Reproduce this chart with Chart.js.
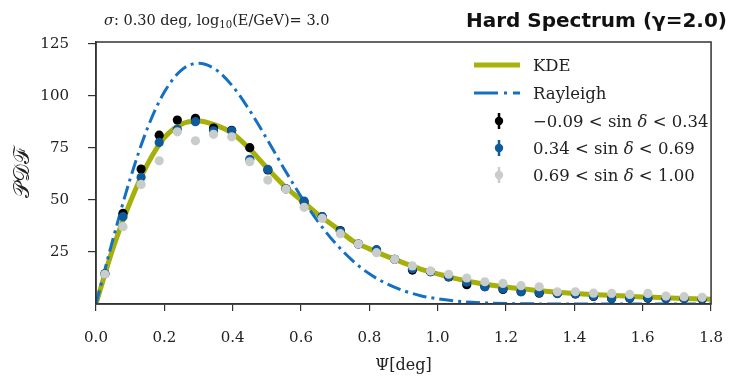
<!DOCTYPE html>
<html>
<head>
<meta charset="utf-8">
<script src="https://cdn.jsdelivr.net/npm/chart.js@4.4.1/dist/chart.umd.min.js"></script>
<style>
body { margin: 0; background: #fff; }
#wrap { position: relative; width: 741px; height: 378px; }
.txt { position: absolute; white-space: nowrap; color: #222; }
sub { font-size: 70%; vertical-align: -3px; line-height: 0; }
.leg { position: absolute; left: 474px; height: 20px; display: flex; align-items: center;
       font: 16.5px 'DejaVu Serif'; color: #222; white-space: nowrap; }
.leg svg { width: 46px; height: 20px; margin-right: 13px; flex: none; }
</style>
</head>
<body>
<div id="wrap">
  <canvas id="chart" width="741" height="378"></canvas>
  <div class="txt" style="left:104px;top:11px;font:14.5px 'DejaVu Serif';line-height:18px"><i>σ</i>: 0.30 deg, log<sub>10</sub>(E/GeV)= 3.0</div>
  <div class="txt" style="right:14px;top:8px;font:bold 20px 'DejaVu Sans';line-height:24px;color:#111">Hard Spectrum (γ=2.0)</div>

  <div class="leg" style="top:55px">
    <svg><line x1="0" y1="10" x2="46" y2="10" stroke="#a7b30c" stroke-width="5"/></svg><span>KDE</span>
  </div>
  <div class="leg" style="top:83px">
    <svg><line x1="0" y1="10" x2="46" y2="10" stroke="#1570c2" stroke-width="3" stroke-dasharray="24 6 3 6"/></svg><span>Rayleigh</span>
  </div>
  <div class="leg" style="top:111px">
    <svg><line x1="25" y1="2" x2="25" y2="18" stroke="#000" stroke-width="2.5"/><circle cx="25" cy="10" r="4.2" fill="#000"/></svg><span>−0.09 &lt; sin <i>δ</i> &lt; 0.34</span>
  </div>
  <div class="leg" style="top:138px">
    <svg><line x1="25" y1="2" x2="25" y2="18" stroke="#0d5a9c" stroke-width="2.5"/><circle cx="25" cy="10" r="4.2" fill="#0d5a9c"/></svg><span>0.34 &lt; sin <i>δ</i> &lt; 0.69</span>
  </div>
  <div class="leg" style="top:165px">
    <svg><line x1="25" y1="2" x2="25" y2="18" stroke="#c8cccb" stroke-width="2.5"/><circle cx="25" cy="10" r="4.2" fill="#c8cccb"/></svg><span>0.69 &lt; sin <i>δ</i> &lt; 1.00</span>
  </div>
</div>

<script>
// bin centres of the histogram points (deg)
const psiBins = [0.026, 0.079, 0.132, 0.185, 0.238, 0.291, 0.344, 0.397, 0.450, 0.503,
                 0.556, 0.609, 0.662, 0.715, 0.768, 0.821, 0.874, 0.926, 0.979, 1.032,
                 1.085, 1.138, 1.191, 1.244, 1.297, 1.350, 1.403, 1.456, 1.509, 1.562,
                 1.615, 1.668, 1.721, 1.774];

// -0.09 < sin d < 0.34
const blackPts = [14.5, 43.6, 64.9, 81.2, 88.5, 89.3, 84.6, 83.5, 75.2, 64.5,
                  55.4, 49.0, 42.0, 35.3, 28.8, 26.0, 21.5, 16.3, 15.5, 13.0,
                  9.3, 8.3, 7.0, 5.9, 5.2, 5.0, 4.8, 3.6, 2.6, 2.8,
                  2.8, 2.6, 2.6, 2.4];
// 0.34 < sin d < 0.69
const bluePts = [14.5, 42.0, 60.9, 77.7, 84.0, 87.7, 83.3, 83.3, 69.6, 64.7,
                 55.4, 49.5, 42.0, 35.0, 28.8, 26.0, 21.5, 17.0, 15.5, 13.1,
                 10.5, 8.3, 7.3, 5.9, 5.4, 5.1, 4.9, 3.8, 2.7, 2.9,
                 3.0, 2.7, 2.7, 2.5];
// 0.69 < sin d < 1.00
const grayPts = [14.3, 37.2, 57.5, 68.9, 82.8, 78.5, 81.6, 80.4, 68.4, 59.6,
                 55.2, 46.5, 41.2, 33.8, 28.8, 24.7, 21.5, 18.3, 15.9, 14.3,
                 12.5, 10.7, 9.9, 8.8, 8.3, 5.9, 5.9, 5.2, 5.1, 4.6,
                 5.1, 3.8, 3.5, 3.2];

// smooth curves, sampled every 0.05 deg
const psiCurve = [0.00, 0.05, 0.10, 0.15, 0.20, 0.25, 0.30, 0.35, 0.40, 0.45,
                  0.50, 0.55, 0.60, 0.65, 0.70, 0.75, 0.80, 0.85, 0.90, 0.95,
                  1.00, 1.05, 1.10, 1.15, 1.20, 1.25, 1.30, 1.35, 1.40, 1.45,
                  1.50, 1.55, 1.60, 1.65, 1.70, 1.75, 1.80];
const kdeVals = [0, 27, 49, 67, 80, 86.5, 88, 86, 82, 74.5,
                 65.5, 57, 50, 43, 37, 30.5, 26.5, 23, 19.8, 16.8,
                 14.5, 12.3, 10.6, 9.3, 8.2, 7.2, 6.4, 5.7, 5.1, 4.6,
                 4.2, 3.8, 3.4, 3.1, 2.8, 2.5, 2.3];
const rayleighVals = [0, 31.4, 60.2, 84.3, 101.9, 112.5, 115.8, 112.8, 104.7, 93.0,
                      79.4, 65.2, 51.7, 39.6, 29.3, 21.0, 14.5, 9.8, 6.4, 4.0,
                      2.5, 1.5, 0.8, 0.45, 0.23, 0.1, 0.05, 0.02, 0.01, 0,
                      0, 0, 0, 0, 0, 0, 0];

const xTicks = [0.0, 0.2, 0.4, 0.6, 0.8, 1.0, 1.2, 1.4, 1.6, 1.8];
const yTicks = [25, 50, 75, 100, 125];

const pts = (xs, ys) => xs.map((x, i) => ({ x: x, y: ys[i] }));

const axisColor = '#333333';
const tickFont = { family: 'DejaVu Serif', size: 15 };

// frame around the plot area + white background
const framePlugin = {
    id: 'frame',
    beforeDraw: (chart) => {
        const ctx = chart.ctx;
        ctx.save();
        ctx.fillStyle = '#ffffff';
        ctx.fillRect(0, 0, chart.width, chart.height);
        ctx.restore();
    },
    afterDraw: (chart) => {
        const a = chart.chartArea;
        const ctx = chart.ctx;
        ctx.save();
        ctx.strokeStyle = axisColor;
        ctx.lineWidth = 1.5;
        ctx.strokeRect(a.left, a.top, a.right - a.left, a.bottom - a.top);
        ctx.restore();
    }
};

const pointSet = (label, data, color, order) => ({
    label: label,
    data: data,
    showLine: false,
    pointRadius: 4.6,
    pointBackgroundColor: color,
    pointBorderWidth: 0,
    order: order
});

new Chart(document.getElementById('chart'), {
    type: 'scatter',
    data: {
        datasets: [
            pointSet('0.69 < sin δ < 1.00', pts(psiBins, grayPts), '#c8cccb', 0),
            pointSet('0.34 < sin δ < 0.69', pts(psiBins, bluePts), '#0d5a9c', 1),
            pointSet('−0.09 < sin δ < 0.34', pts(psiBins, blackPts), '#000000', 2),
            {
                label: 'Rayleigh',
                data: pts(psiCurve, rayleighVals),
                showLine: true,
                borderColor: '#1570c2',
                borderWidth: 3,
                borderDash: [14, 5, 3, 5],
                pointRadius: 0,
                cubicInterpolationMode: 'monotone',
                order: 3
            },
            {
                label: 'KDE',
                data: pts(psiCurve, kdeVals),
                showLine: true,
                borderColor: '#a5b00a',
                borderWidth: 5,
                pointRadius: 0,
                cubicInterpolationMode: 'monotone',
                order: 4
            }
        ]
    },
    options: {
        responsive: false,
        animation: false,
        devicePixelRatio: 1,
        layout: { padding: { left: 0, right: 14, top: 42, bottom: 0 } },
        plugins: {
            legend: { display: false },
            tooltip: { enabled: false }
        },
        scales: {
            x: {
                type: 'linear',
                min: 0,
                max: 1.8,
                afterBuildTicks: (s) => { s.ticks = xTicks.map(v => ({ value: v })); },
                afterFit: (s) => { s.height = 74; },
                ticks: {
                    callback: (v) => Number(v).toFixed(1),
                    font: tickFont,
                    color: '#222',
                    padding: 18,
                    maxRotation: 0
                },
                grid: { drawOnChartArea: false, tickLength: 7, color: axisColor, lineWidth: 1.2 },
                border: { color: axisColor, width: 1.5 },
                title: {
                    display: true,
                    text: 'Ψ[deg]',
                    font: { family: 'DejaVu Serif', size: 16 },
                    color: '#222',
                    padding: { top: 0, bottom: 3 }
                }
            },
            y: {
                min: 0,
                max: 126,
                afterBuildTicks: (s) => { s.ticks = yTicks.map(v => ({ value: v })); },
                afterFit: (s) => { s.width = 96; },
                ticks: { font: tickFont, color: '#222', padding: 19 },
                grid: { drawOnChartArea: false, tickLength: 8, color: axisColor, lineWidth: 1.2 },
                border: { color: axisColor, width: 1.5 },
                title: {
                    display: true,
                    text: '𝒫𝒟ℱ',
                    font: { family: 'DejaVu Serif', size: 22 },
                    color: '#222',
                    padding: { top: 10, bottom: 0 }
                }
            }
        }
    },
    plugins: [framePlugin]
});
</script>
</body>
</html>
